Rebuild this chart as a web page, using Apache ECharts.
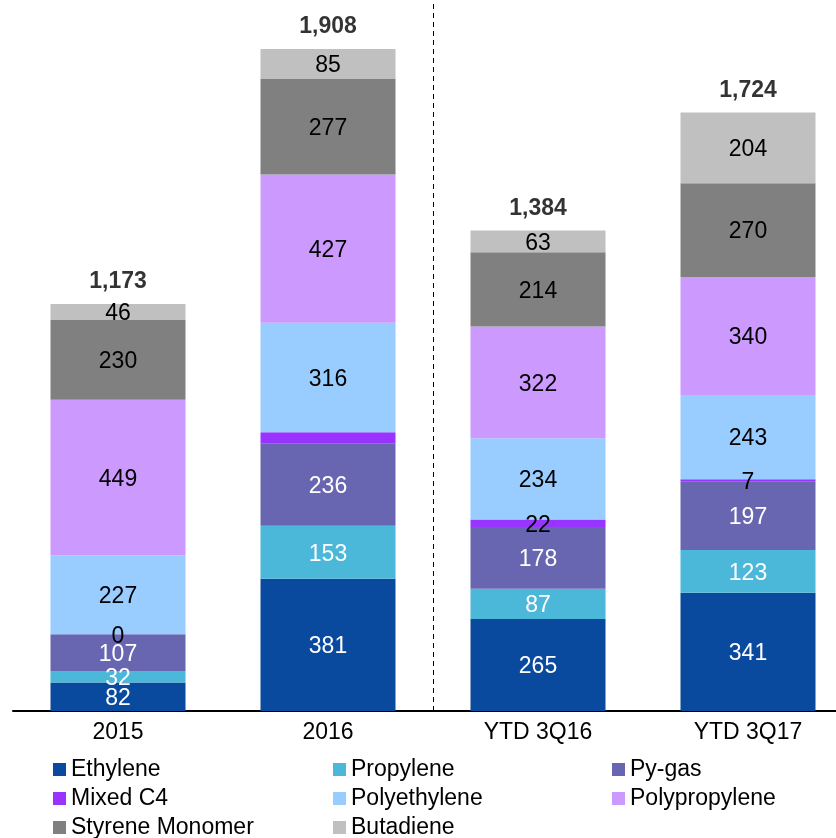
<!DOCTYPE html>
<html>
<head>
<meta charset="utf-8">
<script src="https://cdn.jsdelivr.net/npm/echarts@6/dist/echarts.min.js"></script>
<style>
  html, body { margin: 0; padding: 0; background: #fff; overflow: hidden; }
  #chart { width: 853px; height: 838px; }
</style>
</head>
<body>
<div id="chart"></div>
<script>
const categories = ['2015', '2016', 'YTD 3Q16', 'YTD 3Q17']

const ethylene = [82, 381, 265, 341]
const propylene = [32, 153, 87, 123]
const pyGas = [107, 236, 178, 197]
const mixedC4 = [0, 33, 22, 7]
const polyethylene = [227, 316, 234, 243]
const polypropylene = [449, 427, 322, 340]
const styreneMonomer = [230, 277, 214, 270]
const butadiene = [46, 85, 63, 204]
const totals = [1173, 1908, 1384, 1724]

// 2016 Mixed C4 has no label in the original
const hiddenLabels = { 'Mixed C4': [1] }

const seriesDefs = [
  { name: 'Ethylene', data: ethylene, color: '#0A4A9E', text: '#fff' },
  { name: 'Propylene', data: propylene, color: '#4BB8DA', text: '#fff' },
  { name: 'Py-gas', data: pyGas, color: '#6866B0', text: '#fff' },
  { name: 'Mixed C4', data: mixedC4, color: '#9933FF', text: '#000' },
  { name: 'Polyethylene', data: polyethylene, color: '#99CCFF', text: '#000' },
  { name: 'Polypropylene', data: polypropylene, color: '#CC99FF', text: '#000' },
  { name: 'Styrene Monomer', data: styreneMonomer, color: '#808080', text: '#000' },
  { name: 'Butadiene', data: butadiene, color: '#C0C0C0', text: '#000' }
]

const font = 'Liberation Sans, Arial, sans-serif'

const chart = echarts.init(document.getElementById('chart'))

const barSeries = seriesDefs.map(s => ({
  name: s.name,
  type: 'bar',
  stack: 'total',
  barWidth: 135,
  itemStyle: { color: s.color },
  label: {
    show: true,
    position: 'inside',
    offset: [0, 2],
    color: s.text,
    fontFamily: font,
    fontSize: 23,
    formatter: p => (hiddenLabels[s.name] || []).includes(p.dataIndex) ? '' : String(p.value)
  },
  data: s.data
}))

const legendBox = (left, names) => ({
  orient: 'vertical',
  left: left,
  top: 758,
  height: 90,
  padding: 0,
  itemWidth: 13,
  itemHeight: 13,
  itemGap: 6,
  icon: 'rect',
  textStyle: { fontFamily: font, fontSize: 23, color: '#000' },
  data: names
})

const option = {
  backgroundColor: '#fff',
  animation: false,
  grid: { left: 13, top: 0, right: 0, height: 711, containLabel: false },
  legend: [
    legendBox(53, ['Ethylene', 'Mixed C4', 'Styrene Monomer']),
    legendBox(333, ['Propylene', 'Polyethylene', 'Butadiene']),
    legendBox(612, ['Py-gas', 'Polypropylene'])
  ],
  xAxis: [
    {
      type: 'category',
      data: categories,
      axisLine: { lineStyle: { color: '#000', width: 2 } },
      axisTick: { show: false },
      axisLabel: { color: '#000', fontFamily: font, fontSize: 23, margin: 10 },
      splitLine: { show: false }
    },
    {
      type: 'value',
      min: 0,
      max: 4,
      show: false
    }
  ],
  yAxis: {
    type: 'value',
    min: 0,
    max: 2049,
    show: false,
    splitLine: { show: false }
  },
  series: [
    ...barSeries,
    {
      name: 'Total',
      type: 'scatter',
      symbolSize: 0,
      silent: true,
      label: {
        show: true,
        position: 'top',
        distance: 11,
        color: '#000',
        fontFamily: font,
        fontSize: 23,
        fontWeight: 'bold',
        formatter: p => p.value[1].toLocaleString('en-US')
      },
      data: totals.map((t, i) => [categories[i], t])
    },
    {
      name: 'divider',
      type: 'scatter',
      xAxisIndex: 1,
      symbolSize: 0,
      silent: true,
      data: [[2, 0]],
      markLine: {
        silent: true,
        symbol: 'none',
        label: { show: false },
        lineStyle: { color: '#000', type: [5, 4], width: 1 },
        data: [{ xAxis: 2 }]
      }
    }
  ]
}

chart.setOption(option)
</script>
</body>
</html>
